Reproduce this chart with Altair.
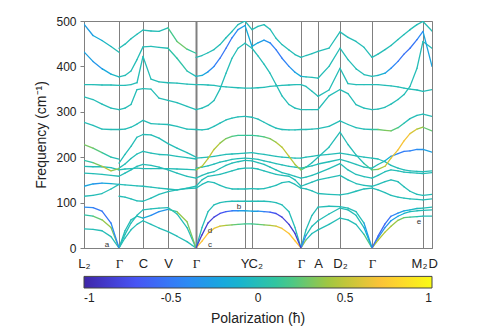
import altair as alt
import pandas as pd

# high-symmetry points (path coordinate) and their names
hs_pos = [0, 35, 59, 84, 112, 161, 168, 217, 234, 256, 288, 339, 348]
hs_names = ["L₂", "Γ", "C", "V", "Γ", "Y", "C₂", "Γ", "A", "D₂", "Γ", "M₂", "D"]
gamma_pos = [35, 112, 217, 288]

# sample positions along the path (Γ points at 35 and 112 appear twice: left/right limits)
kgrid = [0, 9, 18, 27, 35, 35, 41, 47, 53, 59, 67, 75, 84, 93, 103, 112,
         112, 118, 124, 130, 136, 142, 148, 154, 161, 168, 174, 180, 186, 192, 198, 205, 211, 217,
         222, 228, 234, 245, 256, 264, 272, 280, 288,
         294, 301, 307, 314, 320, 326, 333, 339, 348]

# phonon branches (cm^-1) read at kgrid
B1 = [493, 468, 457, 444, 431, 440, 449, 461, 471, 480, 478, 477, 485, 455, 438, 429,
      420, 424, 430, 437, 448, 463, 477, 492, 500, 481, 488, 492, 482, 462, 448, 436, 426, 420,
      424, 428, 433, 440, 476, 464, 455, 442, 420,
      427, 437, 446, 459, 470, 481, 492, 499, 478]
B2 = [432, 411, 395, 383, 377, 377, 380, 390, 415, 443, 444, 442, 440, 418, 390, 378,
      378, 380, 388, 400, 418, 440, 463, 481, 490, 444, 452, 458, 452, 437, 418, 400, 387, 378,
      377, 376, 374, 400, 440, 415, 395, 382, 378,
      380, 385, 396, 411, 427, 440, 459, 477, 400]
B3 = [360, 360, 359, 359, 358, 358, 358, 360, 364, 422, 372, 366, 364, 363, 361, 360,
      360, 360, 359, 358, 356, 355, 354, 353, 352, 352, 353, 354, 356, 357, 358, 359, 360, 360,
      356, 345, 334, 348, 396, 362, 360, 360, 360,
      360, 358, 357, 355, 352, 350, 348, 345, 349]
B4 = [333, 327, 317, 308, 305, 305, 308, 316, 349, 351, 350, 330, 325, 320, 312, 305,
      305, 308, 314, 325, 350, 385, 418, 440, 451, 440, 423, 405, 385, 360, 335, 316, 308, 305,
      305, 305, 305, 335, 349, 340, 316, 308, 305,
      306, 310, 317, 327, 338, 356, 396, 455, 440]
B5 = [277, 270, 262, 261, 261, 261, 262, 266, 273, 281, 274, 273, 272, 268, 262, 261,
      261, 260, 262, 268, 275, 282, 286, 289, 290, 288, 284, 277, 270, 264, 261, 260, 260, 261,
      261, 262, 263, 268, 280, 272, 265, 262, 261,
      261, 259, 258, 265, 275, 285, 292, 295, 290]
B6 = [228, 220, 210, 200, 196, 187, 206, 224, 244, 250, 249, 242, 230, 220, 210, 200,
      172, 180, 197, 217, 231, 241, 246, 248, 248, 248, 247, 245, 241, 233, 222, 202, 184, 172,
      178, 188, 200, 222, 255, 228, 205, 186, 172,
      173, 180, 198, 216, 236, 252, 262, 266, 258]
B7 = [193, 188, 180, 170, 175, 176, 185, 197, 207, 213, 209, 206, 205, 202, 199, 196,
      198, 199, 200, 202, 204, 206, 207, 208, 209, 210, 208, 206, 204, 202, 200, 199, 198, 198,
      200, 202, 204, 206, 209, 206, 203, 200, 198,
      196, 190, 182, 176, 172, 170, 169, 168, 170]
B8 = [180, 179, 179, 177, 172, 172, 174, 175, 176, 175, 175, 175, 175, 174, 173, 172,
      176, 178, 181, 185, 189, 192, 195, 197, 198, 197, 195, 192, 189, 186, 183, 180, 178, 176,
      178, 181, 185, 190, 195, 190, 184, 178, 176,
      184, 192, 202, 208, 213, 214, 217, 217, 211]
B9 = [165, 164, 162, 160, 158, 158, 165, 172, 180, 184, 182, 178, 172, 165, 158, 154,
      154, 160, 165, 168, 175, 182, 187, 190, 193, 192, 188, 184, 178, 172, 166, 162, 158, 154,
      156, 160, 165, 175, 186, 172, 162, 157, 154,
      160, 168, 172, 170, 167, 166, 165, 164, 166]
B10 = [136, 141, 143, 142, 140, 140, 139, 138, 137, 136, 134, 132, 130, 128, 132, 136,
       136, 150, 158, 160, 162, 166, 170, 174, 176, 176, 174, 170, 166, 162, 160, 158, 150, 136,
       140, 145, 150, 155, 160, 150, 142, 138, 136,
       140, 146, 150, 146, 135, 125, 118, 116, 118]
B11 = [114, 116, 120, 130, 140, 114, 112, 108, 104, 103, 110, 118, 124, 128, 131, 132,
       132, 140, 146, 144, 138, 133, 130, 130, 130, 131, 130, 131, 134, 138, 144, 146, 140, 132,
       130, 126, 120, 118, 117, 120, 125, 130, 132,
       128, 122, 116, 112, 110, 108, 107, 106, 108]
A1 = [90, 89, 81, 55, 0, 0, 38, 62, 70, 66, 72, 80, 85, 80, 58, 0,
      0, 45, 80, 95, 100, 102, 103, 103, 103, 103, 103, 103, 102, 100, 95, 80, 45, 0,
      40, 72, 90, 92, 91, 88, 80, 55, 0,
      26, 53, 70, 77, 82, 84, 87, 88, 90]
A2 = [73, 70, 62, 45, 0, 0, 30, 55, 72, 84, 86, 88, 89, 75, 45, 0,
      0, 29, 55, 68, 76, 80, 82, 82, 82, 81, 81, 80, 79, 76, 68, 52, 32, 0,
      28, 48, 60, 75, 88, 84, 72, 45, 0,
      22, 45, 60, 70, 76, 80, 82, 83, 84]
A3 = [42, 41, 38, 25, 0, 0, 22, 40, 52, 60, 52, 44, 36, 26, 14, 0,
      0, 15, 32, 43, 48, 50, 51, 52, 53, 53, 52, 51, 50, 48, 43, 32, 16, 0,
      18, 32, 40, 52, 66, 62, 52, 30, 0,
      17, 35, 48, 61, 67, 68, 69, 70, 70]

# polarization (hbar) where it departs from ~0, by kgrid index
pol_B1 = {0: -0.3, 1: -0.25, 2: -0.1, 13: 0.35, 14: 0.2}
pol_B2 = {0: -0.15, 1: -0.35, 2: -0.3, 3: -0.1, 13: 0.15,
          17: -0.15, 18: -0.3, 19: -0.45, 20: -0.5, 21: -0.55, 22: -0.5, 23: -0.35, 24: -0.2,
          25: -0.15, 26: -0.2, 27: -0.3, 28: -0.4, 29: -0.5, 30: -0.5, 31: -0.4, 32: -0.25, 33: -0.1,
          44: -0.2, 45: -0.35, 46: -0.5, 47: -0.55, 48: -0.55, 49: -0.5, 50: -0.35, 51: -0.1}
pol_B5 = {43: 0.2, 44: 0.35, 45: 0.3, 46: 0.15}
pol_B6 = {0: 0.3, 1: 0.3, 2: 0.15,
          16: 0.35, 17: 0.45, 18: 0.5, 19: 0.5, 20: 0.4, 21: 0.3, 22: 0.2, 23: 0.15, 24: 0.12,
          25: 0.12, 26: 0.15, 27: 0.2, 28: 0.3, 29: 0.4, 30: 0.5, 31: 0.5, 32: 0.45, 33: 0.35,
          42: 0.2, 43: 0.35, 44: 0.5, 45: 0.6, 46: 0.68, 47: 0.7, 48: 0.65, 49: 0.5, 50: 0.3, 51: 0.2}
pol_B7 = {1: 0.15, 2: 0.45, 3: 0.5, 4: 0.2}
pol_B8 = {45: -0.3, 46: -0.45, 47: -0.5, 48: -0.45, 49: -0.4, 50: -0.3, 51: -0.2}
pol_B10 = {0: -0.1, 1: -0.35, 2: -0.3, 3: -0.1}
pol_A1 = {0: -0.35, 1: -0.45, 2: -0.55, 3: -0.5, 4: -0.3,
          10: -0.35, 11: -0.45, 12: -0.2, 13: 0.35, 14: 0.4, 15: 0.2,
          42: -0.5, 43: -0.6, 44: -0.6, 45: -0.5, 46: -0.35, 47: -0.2, 48: -0.1}
pol_A2 = {1: 0.15, 2: 0.35, 3: 0.4, 4: 0.2,
          16: -0.85, 17: -0.85, 18: -0.85, 19: -0.8, 20: -0.75, 21: -0.65, 22: -0.5, 23: -0.35,
          24: -0.2, 25: -0.2, 26: -0.3, 27: -0.45, 28: -0.6, 29: -0.75, 30: -0.8, 31: -0.85,
          32: -0.85, 33: -0.85,
          42: -0.3, 43: -0.35, 44: -0.35, 45: -0.3, 46: -0.2, 47: -0.1}
pol_A3 = {16: 0.7, 17: 0.72, 18: 0.72, 19: 0.68, 20: 0.55, 21: 0.4, 22: 0.3, 23: 0.2, 24: 0.15,
          25: 0.15, 26: 0.2, 27: 0.3, 28: 0.4, 29: 0.55, 30: 0.68, 31: 0.72, 32: 0.72, 33: 0.7,
          42: 0.4, 43: 0.45, 44: 0.45, 45: 0.42, 46: 0.35, 47: 0.25, 48: 0.15}

# mode labels
ann_text = ["a", "b", "c", "d", "e"]
ann_k = [23, 155, 126, 126, 335]
ann_f = [6, 90, 7, 37, 58]

# parula-like colormap
parula = ["#3E26A8", "#4852F4", "#2E87F7", "#12B1D6", "#37C897", "#ABC739", "#FEC338", "#F9FB15"]
pol_domain = [-1 + 2 * i / 7 for i in range(8)]

bands = [("B1", B1, pol_B1), ("B2", B2, pol_B2), ("B3", B3, {}), ("B4", B4, {}),
         ("B5", B5, pol_B5), ("B6", B6, pol_B6), ("B7", B7, pol_B7), ("B8", B8, pol_B8),
         ("B9", B9, {}), ("B10", B10, pol_B10), ("B11", B11, {}),
         ("A1", A1, pol_A1), ("A2", A2, pol_A2), ("A3", A3, pol_A3)]

rows = []
for name, vals, over in bands:
    pol = [0.0] * len(kgrid)
    for i, v in over.items():
        pol[i] = v
    for i in range(len(kgrid) - 1):
        if kgrid[i + 1] == kgrid[i]:
            continue
        rows.append(dict(band=name, k=kgrid[i], k2=kgrid[i + 1], f=vals[i], f2=vals[i + 1],
                         pol=(pol[i] + pol[i + 1]) / 2, absp=abs(pol[i] + pol[i + 1])))
seg = pd.DataFrame(rows).sort_values("absp")
ann = pd.DataFrame({"lab": ann_text, "k": ann_k, "f": ann_f})

label_expr = "''"
for p, n in reversed(list(zip(hs_pos, hs_names))):
    label_expr = f"datum.value == {p} ? '{n}' : ({label_expr})"
gamma_test = " || ".join(f"datum.value == {g}" for g in gamma_pos)

FONT = "Liberation Sans"
GRAY = "#808080"

x_enc = alt.X("k:Q", scale=alt.Scale(domain=[0, 348], nice=False),
              axis=alt.Axis(values=hs_pos, labelExpr=label_expr, title=None,
                            grid=True, gridColor=GRAY, gridOpacity=1,
                            gridWidth={"condition": {"test": "datum.value == 112", "value": 2}, "value": 1},
                            ticks=False, domain=True, domainColor=GRAY,
                            labelFont={"condition": {"test": gamma_test, "value": "Liberation Serif"}, "value": FONT},
                            labelAlign={"condition": [
                                {"test": "datum.value == 161 || datum.value == 339", "value": "right"},
                                {"test": "datum.value == 168 || datum.value == 348", "value": "left"}],
                                "value": "center"},
                            labelOffset={"condition": [
                                {"test": "datum.value == 161 || datum.value == 339", "value": 4},
                                {"test": "datum.value == 168 || datum.value == 348", "value": -4}],
                                "value": 0},
                            labelFontSize=13, labelColor="#222", labelPadding=9,
                            labelOverlap=False))
y_enc = alt.Y("f:Q", scale=alt.Scale(domain=[0, 500], nice=False),
              axis=alt.Axis(values=[0, 100, 200, 300, 400, 500], title="Frequency (cm⁻¹)",
                            titleFont=FONT, titleFontSize=14, titleFontWeight="normal",
                            titleColor="#222", titlePadding=7,
                            labelFont=FONT, labelFontSize=12, labelColor="#222",
                            tickSize=4, tickColor=GRAY, domainColor=GRAY, grid=False,
                            labelPadding=4))

lines = alt.Chart(seg).mark_rule(strokeWidth=1.3, strokeCap="round", clip=True).encode(
    x=x_enc, x2="k2:Q", y=y_enc, y2="f2:Q",
    color=alt.Color("pol:Q",
                    scale=alt.Scale(domain=pol_domain, range=parula, interpolate="rgb"),
                    legend=alt.Legend(orient="none", legendX=0, legendY=255.4,
                                      direction="horizontal", gradientLength=348,
                                      gradientThickness=11.6,
                                      gradientStrokeColor="#444", gradientStrokeWidth=1,
                                      title="Polarization (ħ)", titleOrient="bottom",
                                      titleAnchor="middle", titleFont=FONT, titleFontSize=14,
                                      titleFontWeight="normal", titleColor="#222",
                                      titlePadding=8,
                                      values=[-1, -0.5, 0, 0.5, 1],
                                      labelExpr="datum.value < 0 ? '-' + format(-datum.value, '~g') : format(datum.value, '~g')",
                                      labelFont=FONT, labelFontSize=12, labelColor="#222",
                                      labelAlign="center", labelOffset=5, labelOverlap=False,
                                      padding=0)),
    order=alt.Order("absp:Q"),
)

texts = alt.Chart(ann).mark_text(fontSize=8, color="#333", font=FONT).encode(
    x=x_enc, y=y_enc, text="lab:N")

chart = alt.layer(lines, texts).properties(
    width=348, height=227, autosize="none",
    padding={"left": 76, "top": 13, "right": 50, "bottom": 90},
).configure_view(stroke=GRAY, strokeWidth=1)

chart.save("out.html", embed_options={"renderer": "svg", "actions": False})
